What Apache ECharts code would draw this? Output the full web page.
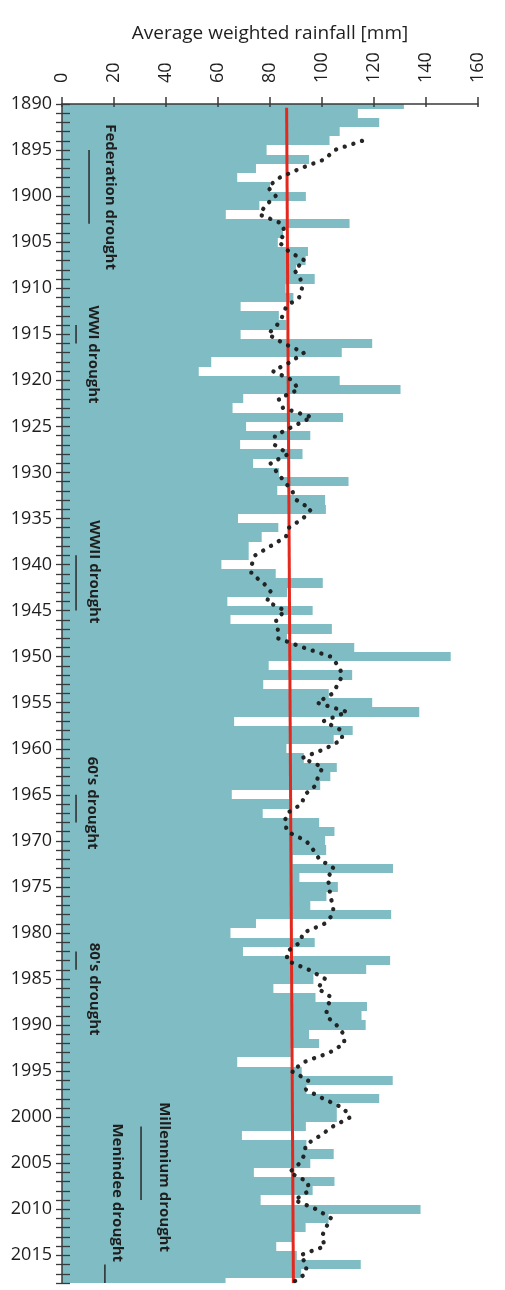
<html style="height: 100%">

<head>
    <meta charset="utf-8">
</head>

<body style="height: 100%; margin: 0; background: #fff">
    <div id="container" style="width: 505px; height: 1290px"></div>

    <script type="text/javascript" src="https://cdn.jsdelivr.net/npm/echarts@6.0.0/dist/echarts.min.js"></script>

    <script type="text/javascript">
        // Annual rainfall, one value per year starting 1890
        var firstYear = 1890;
        var lastYear = 2018;
        var rainfall = [
            131.5, 113.8, 122.0, 106.8, 102.9, 78.7, 95.0, 74.6, 67.4, 80.0,   // 1890s
            93.8, 75.9, 63.0, 110.6, 85.0, 83.0, 94.6, 93.7, 90.0, 97.2,       // 1900s
            86.0, 89.0, 68.7, 83.4, 86.3, 68.7, 119.3, 107.6, 57.4, 52.6,      // 1910s
            106.8, 130.2, 69.7, 65.6, 108.1, 70.8, 95.5, 68.5, 92.5, 73.5,     // 1920s
            83.5, 110.2, 82.8, 101.2, 101.5, 67.7, 83.2, 76.8, 71.8, 71.8,     // 1930s
            61.3, 82.2, 100.3, 86.6, 63.6, 96.4, 64.8, 103.8, 86.5, 112.4,     // 1940s
            149.5, 79.5, 111.6, 77.4, 102.6, 119.3, 137.4, 66.2, 111.8, 104.5, // 1950s
            86.3, 93.0, 105.7, 103.2, 99.3, 65.3, 87.5, 77.2, 98.9, 104.8,     // 1960s
            101.2, 101.6, 88.7, 127.3, 91.3, 106.1, 101.7, 95.5, 126.6, 74.6,  // 1970s
            64.8, 97.2, 69.6, 126.2, 117.0, 96.7, 81.3, 97.5, 117.3, 115.2,    // 1980s
            116.8, 95.0, 98.9, 88.0, 67.4, 92.2, 127.2, 94.0, 122.0, 105.7,    // 1990s
            105.7, 93.8, 69.2, 94.0, 104.5, 95.5, 73.8, 104.8, 96.4, 76.4,     // 2000s
            137.9, 102.5, 93.7, 89.0, 82.4, 90.3, 114.9, 92.0, 62.9            // 2010s
        ];

        // 5-year moving average (dotted), starting 1894
        var maStartYear = 1894;
        var movingAvg = [
            115.4, 104.8, 101.1, 91.6, 83.7, 79.1,
            82.2, 78.3, 76.0, 84.7, 85.7, 83.5, 87.2, 93.4, 89.3, 91.7,
            92.3, 91.2, 86.2, 84.9, 82.7, 79.2, 85.3, 93.1, 87.9, 81.1,
            88.7, 90.9, 83.3, 85.0, 96.1, 88.9, 81.9, 81.7, 87.1, 80.2,
            82.7, 85.6, 88.5, 90.2, 95.8, 92.7, 87.3, 86.1, 80.2, 74.3,
            73.0, 72.8, 77.5, 80.4, 78.8, 85.8, 82.3, 83.0, 83.0, 92.8,
            103.4, 106.3, 107.9, 106.1, 104.1, 98.1, 109.7, 100.6, 107.5, 107.8,
            101.2, 92.4, 100.3, 98.5, 97.5, 93.3, 92.2, 86.5, 85.6, 86.7,
            93.9, 96.7, 99.0, 104.7, 102.0, 103.0, 103.0, 104.4, 104.2, 100.9,
            92.6, 91.7, 86.6, 86.5, 95.0, 101.3, 98.2, 103.7, 102.0, 101.6,
            105.6, 108.4, 108.6, 102.8, 93.2, 88.3, 94.7, 93.8, 100.6, 108.2,
            110.9, 104.2, 99.3, 93.7, 93.4, 91.4, 87.4, 94.5, 95.0, 89.4,
            97.9, 103.6, 101.4, 99.9, 101.1, 91.6, 94.1, 93.7, 88.5
        ];

        // linear trend (red), end points [rainfall, year]
        var trendLine = [[86.4, 1890.4], [89.0, 2018]];

        var droughtNames = ['Federation drought', 'WWI drought', 'WWII drought', "60's drought",
            "80's drought", 'Millennium drought', 'Menindee drought'];
        var droughtStart = [1895, 1914, 1939, 1965, 1982, 2001, 2016];
        var droughtEnd = [1903, 1916, 1945, 1968, 1984, 2009, 2018];

        // where the drought marks sit (x in mm units, label centre year)
        var droughtLayout = [
            { lineX: 10.4, textX: 18.5, textYear: 1900.1 },
            { lineX: 5.4, textX: 11.9, textYear: 1917.2 },
            { lineX: 5.4, textX: 12.5, textYear: 1940.8 },
            { lineX: 5.4, textX: 11.5, textYear: 1965.9 },
            { lineX: 5.4, textX: 12.3, textYear: 1986.1 },
            { lineX: 30.4, textX: 39.2, textYear: 2006.5 },
            { lineX: 16.5, textX: 21.3, textYear: 2008.2 }
        ];

        var barColor = '#7fbcc3';
        var axisColor = '#3a3a3a';
        var font = 'Open Sans';

        var barData = rainfall.map(function (v, i) { return [v, firstYear + i]; });
        var maData = movingAvg.map(function (v, i) { return [v, maStartYear + i]; });

        function renderBar(params, api) {
            var yr = api.value(1);
            var p0 = api.coord([0, yr - 0.5]);
            var p1 = api.coord([api.value(0), yr + 0.5]);
            var y0 = Math.round(p0[1]), y1 = Math.round(p1[1]);
            var shape = echarts.graphic.clipRectByRect({
                x: p0[0], y: y0, width: p1[0] - p0[0], height: y1 - y0
            }, {
                x: params.coordSys.x, y: params.coordSys.y,
                width: params.coordSys.width, height: params.coordSys.height
            });
            return shape && {
                type: 'rect',
                shape: shape,
                style: { fill: barColor }
            };
        }

        function renderDrought(params, api) {
            var i = params.dataIndex;
            var lay = droughtLayout[i];
            var a = api.coord([lay.lineX, droughtStart[i]]);
            var b = api.coord([lay.lineX, droughtEnd[i]]);
            var t = api.coord([lay.textX, lay.textYear]);
            return {
                type: 'group',
                children: [{
                    type: 'line',
                    shape: { x1: a[0], y1: a[1], x2: b[0], y2: b[1] },
                    style: { stroke: '#2a2a2a', lineWidth: 1.5 }
                }, {
                    type: 'text',
                    x: t[0],
                    y: t[1],
                    rotation: -Math.PI / 2,
                    style: {
                        text: droughtNames[i],
                        font: 'bold 15px "' + font + '"',
                        fill: '#1e1e1e',
                        textAlign: 'center',
                        textVerticalAlign: 'middle'
                    }
                }]
            };
        }

        var chartDom = document.getElementById('container');
        var myChart = echarts.init(chartDom, null, { renderer: 'canvas' });
        var option;

        var gridBox = { left: 62, top: 104, width: 416, height: 1179 };

        option = {
            backgroundColor: '#fff',
            animation: false,
            textStyle: { fontFamily: font },
            grid: [
                Object.assign({}, gridBox),
                Object.assign({}, gridBox)
            ],
            xAxis: [{
                type: 'value',
                gridIndex: 0,
                position: 'top',
                min: 0,
                max: 160,
                interval: 20,
                z: 10,
                name: 'Average weighted rainfall [mm]',
                nameLocation: 'middle',
                nameGap: 61,
                nameTextStyle: { color: '#1e1e1e', fontSize: 19, fontFamily: font },
                axisLine: { show: true, lineStyle: { color: axisColor, width: 1.5 } },
                axisTick: { show: true, length: 7, lineStyle: { color: axisColor, width: 1.5 } },
                axisLabel: {
                    rotate: -90,
                    margin: 21,
                    color: '#1e1e1e',
                    fontSize: 18,
                    fontFamily: font
                },
                splitLine: { show: false }
            }, {
                type: 'value',
                gridIndex: 1,
                position: 'top',
                min: 0,
                max: 160,
                interval: 20,
                z: 10,
                axisLine: { show: false },
                axisTick: { show: true, inside: true, length: 3, lineStyle: { color: axisColor, width: 1.5 } },
                axisLabel: { show: false },
                splitLine: { show: false }
            }],
            yAxis: [{
                type: 'value',
                gridIndex: 0,
                inverse: true,
                min: firstYear,
                max: lastYear,
                interval: 1,
                z: 10,
                axisLine: { show: true, lineStyle: { color: axisColor, width: 1.5 } },
                axisTick: { show: true, length: 6, lineStyle: { color: axisColor, width: 1.3 } },
                axisLabel: {
                    margin: 10,
                    color: '#1e1e1e',
                    fontSize: 18,
                    fontFamily: font,
                    formatter: function (v) { return v % 5 === 0 ? String(v) : ''; }
                },
                splitLine: { show: false }
            }, {
                type: 'value',
                gridIndex: 1,
                inverse: true,
                min: firstYear,
                max: lastYear,
                interval: 1,
                z: 10,
                axisLine: { show: false },
                axisTick: { show: true, inside: true, length: 8, lineStyle: { color: axisColor, width: 1.3 } },
                axisLabel: { show: false },
                splitLine: { show: false }
            }],
            series: [{
                name: 'rainfall',
                type: 'custom',
                xAxisIndex: 0,
                yAxisIndex: 0,
                renderItem: renderBar,
                encode: { x: 0, y: 1 },
                data: barData,
                z: 1
            }, {
                name: 'moving average',
                type: 'line',
                xAxisIndex: 0,
                yAxisIndex: 0,
                showSymbol: false,
                symbol: 'none',
                lineStyle: { color: '#1a1a1a', width: 4.3, type: [0.1, 9], cap: 'round', opacity: 0.95 },
                data: maData,
                z: 4
            }, {
                name: 'trend',
                type: 'line',
                xAxisIndex: 0,
                yAxisIndex: 0,
                showSymbol: false,
                symbol: 'none',
                lineStyle: { color: '#e3281e', width: 3 },
                data: trendLine,
                z: 3
            }, {
                name: 'droughts',
                type: 'custom',
                xAxisIndex: 0,
                yAxisIndex: 0,
                renderItem: renderDrought,
                data: droughtNames.map(function (n, i) { return [0, droughtStart[i]]; }),
                z: 5
            }]
        };

        option && myChart.setOption(option);
    </script>
</body>

</html>
